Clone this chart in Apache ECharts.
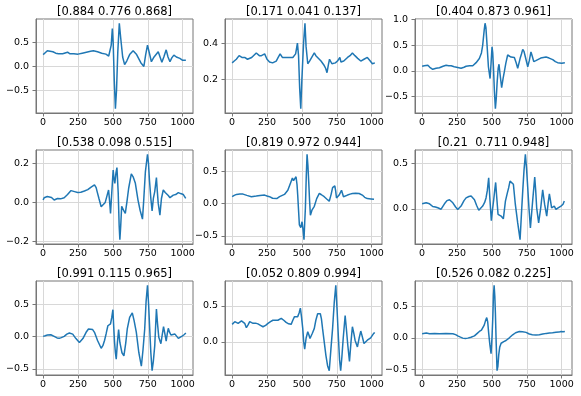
<!DOCTYPE html>
<html>
<head>
    <meta charset="utf-8">
    <title>9 traces</title>
    <script src="https://cdn.jsdelivr.net/npm/echarts@6.0.0/dist/echarts.min.js"></script>
    <style>
        html, body { margin: 0; padding: 0; background: #fff; }
        #chart { width: 581px; height: 396px; }
    </style>
</head>
<body>
    <div id="chart"></div>
    <script>
        // titles, ticks and traces
        const titles = ['[0.884 0.776 0.868]', '[0.171 0.041 0.137]', '[0.404 0.873 0.961]',
                        '[0.538 0.098 0.515]', '[0.819 0.972 0.944]', '[0.21  0.711 0.948]',
                        '[0.991 0.115 0.965]', '[0.052 0.809 0.994]', '[0.526 0.082 0.225]'];
        const xTicks = [0, 250, 500, 750, 1000];
        const yTicks = [[-0.5, 0, 0.5], [0.2, 0.4], [-0.5, 0, 0.5, 1.0],
                        [-0.2, 0, 0.2], [-0.5, 0, 0.5], [0, 0.5],
                        [-0.5, 0, 0.5], [0, 0.5], [-0.5, 0, 0.5]];

        const s1 = [[0,0.25],[15,0.29],[30,0.33],[50,0.32],[70,0.31],[90,0.28],[110,0.27],[140,0.27],[175,0.30],[190,0.27],
            [220,0.27],[250,0.26],[280,0.28],[310,0.30],[340,0.32],[360,0.33],[390,0.31],[420,0.28],[450,0.26],[470,0.22],
            [480,0.18],[488,0.45],[496,0.80],[502,0.5],[510,-0.3],[518,-0.89],[526,-0.5],[535,0.3],[546,0.91],[556,0.6],
            [570,0.2],[584,0.04],[600,0.12],[620,0.25],[645,0.33],[670,0.25],[700,0.08],[722,0.0],[735,0.25],[748,0.45],
            [760,0.3],[776,0.10],[795,0.2],[825,0.31],[838,0.2],[851,0.09],[865,0.2],[882,0.35],[895,0.2],[909,0.10],
            [922,0.18],[937,0.24],[955,0.2],[980,0.17],[1000,0.13],[1010,0.17],[1023,0.13]];
        const s2 = [[0,0.29],[15,0.30],[30,0.31],[50,0.33],[70,0.32],[90,0.32],[110,0.31],[140,0.32],[173,0.345],[195,0.33],
            [210,0.33],[233,0.34],[250,0.31],[268,0.295],[290,0.29],[316,0.30],[330,0.32],[344,0.34],[360,0.32],[375,0.32],
            [400,0.32],[435,0.32],[455,0.34],[468,0.40],[476,0.33],[484,0.15],[492,0.035],[500,0.2],[512,0.4],[522,0.51],
            [530,0.38],[542,0.285],[555,0.30],[565,0.31],[589,0.345],[600,0.33],[613,0.32],[637,0.30],[660,0.275],[670,0.26],
            [680,0.235],[690,0.28],[698,0.31],[715,0.285],[740,0.29],[755,0.30],[772,0.32],[780,0.295],[800,0.30],[827,0.32],
            [845,0.33],[862,0.345],[880,0.33],[900,0.315],[922,0.30],[945,0.31],[969,0.32],[990,0.30],[1005,0.285],[1015,0.295],[1023,0.29]];
        const s3 = [[0,0.09],[15,0.10],[29,0.10],[41,0.11],[55,0.07],[76,0.03],[100,0.05],[124,0.06],[150,0.09],[172,0.11],
            [190,0.10],[208,0.10],[230,0.08],[255,0.065],[279,0.05],[300,0.07],[315,0.09],[340,0.10],[363,0.10],[387,0.16],
            [410,0.24],[425,0.35],[434,0.50],[445,0.80],[451,0.93],[457,0.85],[463,0.60],[470,0.30],[475,0.08],[487,-0.15],
            [494,0.15],[501,0.47],[506,0.35],[511,0.08],[518,-0.4],[525,-0.74],[531,-0.55],[537,-0.25],[545,0.05],[551,0.13],
            [560,-0.1],[570,-0.33],[580,-0.15],[589,-0.02],[600,0.15],[613,0.31],[625,0.28],[637,0.27],[661,0.26],[675,0.15],
            [685,0.05],[702,0.24],[712,0.33],[721,0.42],[730,0.38],[740,0.27],[757,0.08],[768,0.2],[780,0.37],[790,0.28],
            [800,0.18],[815,0.2],[828,0.21],[850,0.25],[888,0.27],[910,0.25],[936,0.22],[955,0.18],[971,0.16],[1000,0.15],[1023,0.16]];
        const s4 = [[0,0.012],[7,0.024],[19,0.02],[30,0.03],[43,0.034],[60,0.025],[79,0.012],[90,0.015],[103,0.02],[125,0.018],
            [151,0.024],[175,0.04],[200,0.06],[225,0.055],[248,0.05],[270,0.052],[296,0.058],[320,0.065],[344,0.078],[368,0.089],
            [380,0.075],[387,0.055],[400,0.02],[416,-0.022],[430,-0.026],[445,0.0],[459,0.037],[469,0.063],[476,0.01],[483,-0.056],
            [492,0.05],[502,0.165],[508,0.12],[514,0.097],[522,0.15],[529,0.177],[538,0.05],[545,-0.12],[550,-0.19],[556,-0.12],
            [563,-0.02],[570,-0.022],[580,-0.045],[589,-0.056],[600,0.0],[613,0.072],[632,0.145],[645,0.13],[661,0.097],[680,0.012],
            [695,-0.04],[712,-0.085],[720,0.0],[733,0.157],[748,0.245],[755,0.2],[762,0.114],[772,0.02],[781,-0.044],[790,0.02],
            [800,0.055],[812,0.126],[818,0.06],[825,-0.005],[837,-0.065],[848,0.02],[861,0.063],[875,0.05],[885,0.055],[897,0.035],
            [909,0.024],[920,0.03],[933,0.037],[950,0.04],[969,0.05],[985,0.045],[1005,0.04],[1015,0.03],[1022,0.02]];
        const s5 = [[0,0.11],[15,0.13],[31,0.145],[55,0.15],[78,0.15],[105,0.13],[138,0.11],[173,0.12],[200,0.13],[233,0.135],
            [250,0.12],[268,0.11],[290,0.085],[304,0.07],[320,0.08],[340,0.11],[375,0.145],[399,0.21],[418,0.32],[432,0.40],
            [440,0.36],[447,0.33],[458,0.42],[465,0.3],[470,0.135],[476,-0.1],[482,-0.33],[492,-0.37],[501,-0.28],[508,-0.4],
            [515,-0.56],[520,-0.3],[525,-0.07],[531,0.4],[537,0.77],[543,0.6],[549,0.34],[555,0.05],[561,-0.18],[572,-0.10],
            [589,-0.04],[606,0.08],[625,0.16],[640,0.14],[660,0.11],[680,0.07],[696,0.04],[710,0.15],[720,0.25],[736,0.28],
            [742,0.2],[748,0.09],[767,0.135],[784,0.21],[798,0.11],[812,0.12],[827,0.135],[845,0.15],[862,0.16],[885,0.165],
            [910,0.16],[933,0.135],[950,0.1],[969,0.08],[995,0.075],[1017,0.07]];
        const s6 = [[0,0.055],[12,0.04],[29,0.066],[53,0.055],[76,0.026],[95,0.02],[112,0.011],[136,-0.004],[160,0.055],[178,0.09],
            [196,0.10],[220,0.066],[240,0.02],[255,-0.007],[279,0.03],[300,0.09],[315,0.12],[335,0.135],[351,0.14],[375,0.10],
            [390,0.04],[406,-0.015],[420,0.0],[434,0.03],[448,0.07],[458,0.12],[467,0.2],[477,0.34],[486,0.1],[496,-0.13],
            [505,0.0],[513,0.10],[520,0.2],[527,0.29],[536,0.1],[544,-0.06],[566,-0.08],[582,-0.11],[597,0.085],[610,0.17],
            [620,0.23],[630,0.305],[642,0.29],[654,0.27],[668,0.048],[685,-0.155],[702,-0.34],[712,-0.05],[721,0.195],[730,0.42],
            [740,0.60],[748,0.45],[757,0.23],[766,0.0],[776,-0.21],[792,0.085],[807,0.35],[814,0.2],[821,0.011],[835,-0.155],
            [850,0.011],[864,0.21],[878,0.048],[893,-0.08],[903,0.06],[912,0.165],[920,0.09],[928,0.011],[947,0.03],[959,-0.007],
            [975,0.01],[995,0.03],[1010,0.05],[1019,0.085]];
        const s7 = [[0,0.005],[15,0.015],[31,0.026],[55,0.03],[79,0.005],[100,-0.02],[115,-0.026],[130,-0.015],[151,0.005],[170,0.04],
            [188,0.057],[212,0.04],[235,-0.03],[260,-0.09],[285,-0.03],[308,0.068],[325,0.12],[339,0.14],[355,0.11],[368,0.068],
            [390,-0.06],[416,-0.18],[428,-0.14],[440,-0.06],[452,0.05],[464,0.17],[475,0.19],[483,0.20],[492,0.3],[500,0.42],
            [506,0.15],[512,-0.09],[518,-0.25],[524,-0.35],[532,-0.1],[541,0.11],[550,-0.09],[565,-0.25],[579,-0.30],[592,-0.1],
            [603,0.12],[620,0.3],[639,0.37],[652,0.25],[668,0.068],[686,-0.25],[704,-0.46],[716,-0.2],[728,0.12],[738,0.55],
            [748,0.80],[756,0.5],[764,0.12],[772,-0.25],[781,-0.53],[790,-0.38],[800,-0.14],[806,0.15],[812,0.43],[820,0.2],
            [829,-0.01],[844,-0.11],[853,0.02],[863,0.156],[872,0.05],[882,-0.07],[890,0.05],[897,0.13],[906,0.07],[916,0.026],
            [930,0.03],[945,0.04],[969,-0.026],[993,0.005],[1010,0.03],[1023,0.057]];
        const s8 = [[0,0.243],[10,0.26],[19,0.28],[30,0.27],[43,0.257],[55,0.27],[67,0.29],[78,0.28],[90,0.257],[102,0.196],
            [115,0.24],[126,0.28],[138,0.27],[150,0.257],[168,0.26],[185,0.25],[203,0.23],[221,0.21],[240,0.23],[257,0.257],
            [275,0.28],[292,0.30],[310,0.30],[328,0.30],[352,0.327],[370,0.3],[387,0.27],[405,0.25],[423,0.243],[435,0.3],
            [447,0.35],[460,0.35],[470,0.35],[480,0.4],[489,0.467],[497,0.35],[506,0.187],[513,0.0],[520,-0.10],[530,0.05],
            [542,0.14],[550,0.1],[558,0.047],[575,0.12],[589,0.187],[600,0.3],[613,0.39],[632,0.39],[640,0.32],[648,0.187],
            [660,0.0],[672,-0.187],[684,-0.33],[696,-0.40],[708,-0.1],[720,0.187],[732,0.55],[743,0.785],[752,0.45],[762,0.047],
            [770,-0.25],[778,-0.40],[787,-0.2],[796,0.047],[810,0.365],[818,0.2],[829,-0.047],[841,-0.27],[852,0.0],[862,0.21],
            [872,0.12],[881,0.023],[898,-0.07],[910,0.05],[922,0.15],[932,0.08],[945,-0.023],[969,0.023],[993,0.056],[1005,0.08],
            [1017,0.126],[1023,0.12]];
        const s9 = [[0,0.065],[10,0.086],[30,0.075],[53,0.065],[90,0.07],[124,0.065],[170,0.07],[220,0.065],[240,0.05],[255,0.03],
            [275,0.01],[291,-0.005],[310,-0.01],[327,-0.005],[350,0.01],[375,0.03],[395,0.07],[410,0.10],[425,0.12],[434,0.14],
            [445,0.2],[453,0.26],[463,0.32],[470,0.25],[477,0.075],[485,-0.1],[494,-0.25],[501,0.02],[507,0.35],[511,0.67],
            [516,0.83],[521,0.65],[525,0.40],[531,-0.1],[537,-0.52],[543,-0.45],[549,-0.27],[556,-0.15],[566,-0.086],[585,-0.06],
            [601,-0.043],[625,0.0],[649,0.048],[670,0.08],[697,0.10],[720,0.095],[745,0.086],[768,0.06],[790,0.05],[816,0.043],
            [840,0.05],[864,0.06],[890,0.07],[912,0.075],[935,0.08],[959,0.086],[980,0.09],[995,0.10],[1010,0.095],[1023,0.10]];
        const traces = [s1, s2, s3, s4, s5, s6, s7, s8, s9];

        // subplot boxes (px)
        const colLeft = [36, 225, 415];
        const rowTop = [19, 150, 281];
        const boxW = 157, boxH = 94;

        const font = 'DejaVu Sans';
        const spine = '#777';
        const xFmt = v => String(Math.round(v));
        const yFmt = v => (v < 0 ? '\u2212' : '') + Math.abs(v).toFixed(1);

        const grid = [], xAxis = [], yAxis = [], series = [], title = [];
        traces.forEach((d, i) => {
            const r = Math.floor(i / 3), c = i % 3;
            const ys = d.map(p => p[1]);
            const lo = Math.min(...ys), hi = Math.max(...ys);
            const pad = (hi - lo) * 0.05;

            grid.push({ left: colLeft[c], top: rowTop[r], width: boxW, height: boxH,
                        show: true, borderColor: spine, borderWidth: 1 });
            title.push({ text: titles[i], left: colLeft[c] + boxW / 2, top: rowTop[r] - 13,
                         textAlign: 'center', padding: 0,
                         textStyle: { fontFamily: font, fontSize: 11.5, fontWeight: 'normal', color: '#000' } });
            xAxis.push({
                gridIndex: i, type: 'value', min: -51.15, max: 1074.15,
                axisLine: { show: true, onZero: false, lineStyle: { color: spine } },
                axisTick: { show: true, length: 3.5, customValues: xTicks, lineStyle: { color: spine } },
                axisLabel: { customValues: xTicks, formatter: xFmt, fontFamily: font, fontSize: 9.5, color: '#000', margin: 5 },
                splitLine: { show: true, lineStyle: { color: '#d8d8d8', width: 1 } }
            });
            yAxis.push({
                gridIndex: i, type: 'value', min: lo - pad, max: hi + pad,
                axisLine: { show: true, onZero: false, lineStyle: { color: spine } },
                axisTick: { show: true, length: 3.5, customValues: yTicks[i], lineStyle: { color: spine } },
                axisLabel: { customValues: yTicks[i], formatter: yFmt, fontFamily: font, fontSize: 9.5, color: '#000', margin: 7 },
                splitLine: { show: true, lineStyle: { color: '#d8d8d8', width: 1 } }
            });
            series.push({
                type: 'line', xAxisIndex: i, yAxisIndex: i, data: d,
                symbol: 'none', showSymbol: false,
                lineStyle: { color: '#1f77b4', width: 1.5 }
            });
        });

        const chart = echarts.init(document.getElementById('chart'));
        chart.setOption({
            animation: false,
            backgroundColor: '#fff',
            title: title,
            grid: grid,
            xAxis: xAxis,
            yAxis: yAxis,
            series: series
        });
    </script>
</body>
</html>
